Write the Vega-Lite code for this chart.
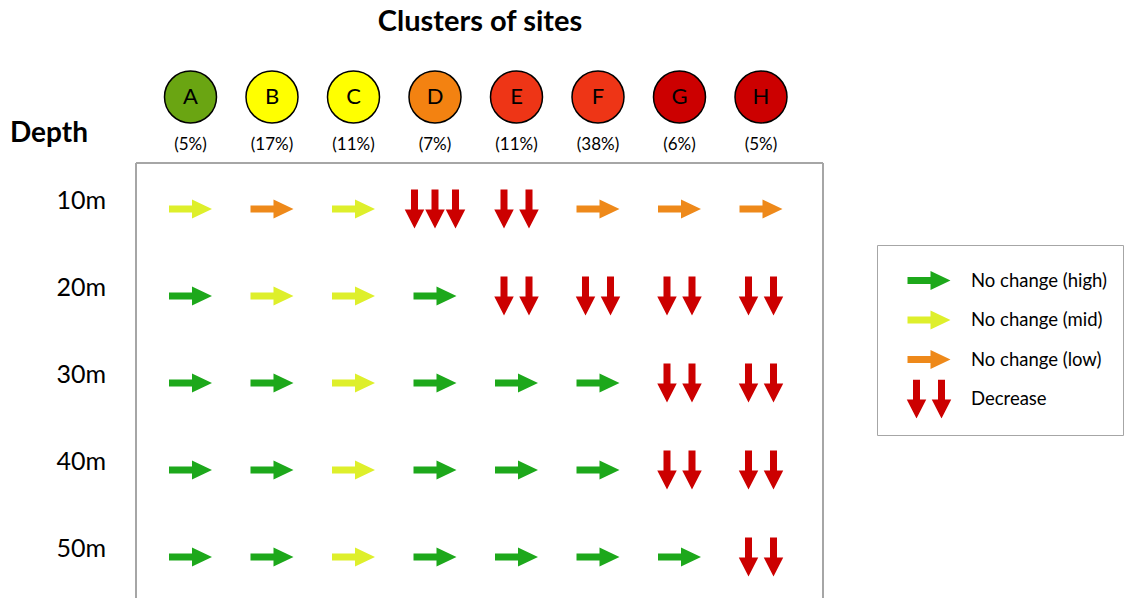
{
  "$schema": "https://vega.github.io/schema/vega-lite/v6.json",
  "width": 1130,
  "height": 599,
  "autosize": {"type": "fit", "contains": "padding"},
  "padding": 0,
  "background": "white",
  "config": {"view": {"stroke": null}, "font": "Lato", "text": {"font": "Lato", "color": "black"}},
  "datasets": {
    "cells": [
      {"cluster": "A", "idx": 1, "depth": 10, "trend": "No change (mid)", "arrows": 1},
      {"cluster": "B", "idx": 2, "depth": 10, "trend": "No change (low)", "arrows": 1},
      {"cluster": "C", "idx": 3, "depth": 10, "trend": "No change (mid)", "arrows": 1},
      {"cluster": "D", "idx": 4, "depth": 10, "trend": "Decrease", "arrows": 3},
      {"cluster": "E", "idx": 5, "depth": 10, "trend": "Decrease", "arrows": 2},
      {"cluster": "F", "idx": 6, "depth": 10, "trend": "No change (low)", "arrows": 1},
      {"cluster": "G", "idx": 7, "depth": 10, "trend": "No change (low)", "arrows": 1},
      {"cluster": "H", "idx": 8, "depth": 10, "trend": "No change (low)", "arrows": 1},
      {"cluster": "A", "idx": 1, "depth": 20, "trend": "No change (high)", "arrows": 1},
      {"cluster": "B", "idx": 2, "depth": 20, "trend": "No change (mid)", "arrows": 1},
      {"cluster": "C", "idx": 3, "depth": 20, "trend": "No change (mid)", "arrows": 1},
      {"cluster": "D", "idx": 4, "depth": 20, "trend": "No change (high)", "arrows": 1},
      {"cluster": "E", "idx": 5, "depth": 20, "trend": "Decrease", "arrows": 2},
      {"cluster": "F", "idx": 6, "depth": 20, "trend": "Decrease", "arrows": 2},
      {"cluster": "G", "idx": 7, "depth": 20, "trend": "Decrease", "arrows": 2},
      {"cluster": "H", "idx": 8, "depth": 20, "trend": "Decrease", "arrows": 2},
      {"cluster": "A", "idx": 1, "depth": 30, "trend": "No change (high)", "arrows": 1},
      {"cluster": "B", "idx": 2, "depth": 30, "trend": "No change (high)", "arrows": 1},
      {"cluster": "C", "idx": 3, "depth": 30, "trend": "No change (mid)", "arrows": 1},
      {"cluster": "D", "idx": 4, "depth": 30, "trend": "No change (high)", "arrows": 1},
      {"cluster": "E", "idx": 5, "depth": 30, "trend": "No change (high)", "arrows": 1},
      {"cluster": "F", "idx": 6, "depth": 30, "trend": "No change (high)", "arrows": 1},
      {"cluster": "G", "idx": 7, "depth": 30, "trend": "Decrease", "arrows": 2},
      {"cluster": "H", "idx": 8, "depth": 30, "trend": "Decrease", "arrows": 2},
      {"cluster": "A", "idx": 1, "depth": 40, "trend": "No change (high)", "arrows": 1},
      {"cluster": "B", "idx": 2, "depth": 40, "trend": "No change (high)", "arrows": 1},
      {"cluster": "C", "idx": 3, "depth": 40, "trend": "No change (mid)", "arrows": 1},
      {"cluster": "D", "idx": 4, "depth": 40, "trend": "No change (high)", "arrows": 1},
      {"cluster": "E", "idx": 5, "depth": 40, "trend": "No change (high)", "arrows": 1},
      {"cluster": "F", "idx": 6, "depth": 40, "trend": "No change (high)", "arrows": 1},
      {"cluster": "G", "idx": 7, "depth": 40, "trend": "Decrease", "arrows": 2},
      {"cluster": "H", "idx": 8, "depth": 40, "trend": "Decrease", "arrows": 2},
      {"cluster": "A", "idx": 1, "depth": 50, "trend": "No change (high)", "arrows": 1},
      {"cluster": "B", "idx": 2, "depth": 50, "trend": "No change (high)", "arrows": 1},
      {"cluster": "C", "idx": 3, "depth": 50, "trend": "No change (mid)", "arrows": 1},
      {"cluster": "D", "idx": 4, "depth": 50, "trend": "No change (high)", "arrows": 1},
      {"cluster": "E", "idx": 5, "depth": 50, "trend": "No change (high)", "arrows": 1},
      {"cluster": "F", "idx": 6, "depth": 50, "trend": "No change (high)", "arrows": 1},
      {"cluster": "G", "idx": 7, "depth": 50, "trend": "No change (high)", "arrows": 1},
      {"cluster": "H", "idx": 8, "depth": 50, "trend": "Decrease", "arrows": 2}
    ],
    "clusters": [
      {"cluster": "A", "idx": 1, "grade": "1", "share": "(5%)"},
      {"cluster": "B", "idx": 2, "grade": "2", "share": "(17%)"},
      {"cluster": "C", "idx": 3, "grade": "2", "share": "(11%)"},
      {"cluster": "D", "idx": 4, "grade": "3", "share": "(7%)"},
      {"cluster": "E", "idx": 5, "grade": "4", "share": "(11%)"},
      {"cluster": "F", "idx": 6, "grade": "4", "share": "(38%)"},
      {"cluster": "G", "idx": 7, "grade": "5", "share": "(6%)"},
      {"cluster": "H", "idx": 8, "grade": "5", "share": "(5%)"}
    ],
    "depths": [
      {"depth": 10, "label": "10m"},
      {"depth": 20, "label": "20m"},
      {"depth": 30, "label": "30m"},
      {"depth": 40, "label": "40m"},
      {"depth": 50, "label": "50m"}
    ]
  },
  "layer": [
    {
      "data": {"values": [{}]},
      "mark": {"type": "rule", "color": "#A6A6A6", "strokeWidth": 2},
      "encoding": {
        "x": {"datum": 0.3313, "type": "quantitative", "scale": {"domain": [-1.3374, 12.5276], "nice": false, "zero": false}, "axis": null},
        "x2": {"datum": 8.7607},
        "y": {"datum": 4.713, "type": "quantitative", "scale": {"domain": [-14.023, 54.828], "nice": false, "zero": false, "reverse": true}, "axis": null}
      }
    },
    {
      "data": {"values": [{}]},
      "mark": {"type": "rule", "color": "#A6A6A6", "strokeWidth": 2},
      "encoding": {
        "x": {"datum": 0.3313, "type": "quantitative"},
        "y": {"datum": 4.713, "type": "quantitative"},
        "y2": {"datum": 54.7}
      }
    },
    {
      "data": {"values": [{}]},
      "mark": {"type": "rule", "color": "#A6A6A6", "strokeWidth": 2},
      "encoding": {
        "x": {"datum": 8.7607, "type": "quantitative"},
        "y": {"datum": 4.713, "type": "quantitative"},
        "y2": {"datum": 54.7}
      }
    },
    {
      "data": {"name": "clusters"},
      "mark": {"type": "point", "shape": "circle", "filled": true, "size": 2704, "stroke": "black", "strokeWidth": 1.5, "opacity": 1},
      "encoding": {
        "x": {"field": "idx", "type": "quantitative"},
        "y": {"datum": -2.874, "type": "quantitative"},
        "fill": {"field": "grade", "type": "nominal", "legend": null,
          "scale": {"domain": ["1", "2", "3", "4", "5"], "range": ["#6AA512", "#FFFF00", "#F38211", "#EE3516", "#CC0000"]}}
      }
    },
    {
      "data": {"name": "clusters"},
      "mark": {"type": "text", "fontSize": 22, "baseline": "middle", "align": "center"},
      "encoding": {
        "x": {"field": "idx", "type": "quantitative"},
        "y": {"datum": -2.874, "type": "quantitative"},
        "text": {"field": "cluster"}
      }
    },
    {
      "data": {"name": "clusters"},
      "mark": {"type": "text", "fontSize": 17, "baseline": "middle", "align": "center"},
      "encoding": {
        "x": {"field": "idx", "type": "quantitative"},
        "y": {"datum": 2.644, "type": "quantitative"},
        "text": {"field": "share"}
      }
    },
    {
      "data": {"name": "cells"},
      "transform": [{"filter": "datum.arrows < 3"}],
      "mark": {"type": "point", "filled": true, "size": 900, "opacity": 1, "strokeWidth": 0},
      "encoding": {
        "x": {"field": "idx", "type": "quantitative"},
        "y": {"field": "depth", "type": "quantitative"},
        "color": {
          "field": "trend", "type": "nominal",
          "scale": {"domain": ["No change (high)", "No change (mid)", "No change (low)", "Decrease"], "range": ["#1DA81B", "#DEEF2B", "#EE891A", "#CC0000"]},
          "legend": {
            "title": null, "orient": "none", "legendX": 877, "legendY": 245,
            "padding": 16, "strokeColor": "#A6A6A6", "fillColor": "white",
            "symbolSize": 900, "symbolStrokeWidth": 0, "symbolOffset": 21,
            "labelFont": "Lato", "labelFontSize": 18.5, "labelColor": "black", "labelOffset": 27,
            "clipHeight": 39, "rowPadding": 0.5,
            "encode": {
              "legend": {"update": {"strokeWidth": {"value": 2}}},
              "symbols": {"update": {"fill": {"signal": "datum.value === 'No change (high)' ? '#92D050' : datum.value === 'No change (mid)' ? '#F5FF00' : datum.value === 'No change (low)' ? '#EE8A1A' : '#CC0000'"}, "opacity": {"value": 1}}}
            }
          }
        },
        "shape": {
          "field": "trend", "type": "nominal",
          "scale": {"domain": ["No change (high)", "No change (mid)", "No change (low)", "Decrease"],
            "range": [
              "M-1.433,-0.233L0.1,-0.233L0.1,-0.633L1.433,0L0.1,0.633L0.1,0.233L-1.433,0.233Z",
              "M-1.433,-0.233L0.1,-0.233L0.1,-0.633L1.433,0L0.1,0.633L0.1,0.233L-1.433,0.233Z",
              "M-1.433,-0.233L0.1,-0.233L0.1,-0.633L1.433,0L0.1,0.633L0.1,0.233L-1.433,0.233Z",
              "M-1.067,-1.3L-0.6,-1.3L-0.6,0.033L-0.183,0.033L-0.833,1.3L-1.483,0.033L-1.067,0.033Z M0.6,-1.3L1.067,-1.3L1.067,0.033L1.483,0.033L0.833,1.3L0.183,0.033L0.6,0.033Z"
            ]}
        }
      }
    },
    {
      "data": {"name": "cells"},
      "transform": [{"filter": "datum.arrows === 3"}],
      "mark": {"type": "point", "filled": true, "size": 900, "opacity": 1, "strokeWidth": 0, "color": "#CC0000",
        "shape": "M-1.6,-1.3L-1.133,-1.3L-1.133,0.033L-0.717,0.033L-1.367,1.3L-2.017,0.033L-1.6,0.033Z M-0.233,-1.3L0.233,-1.3L0.233,0.033L0.65,0.033L0,1.3L-0.65,0.033L-0.233,0.033Z M1.133,-1.3L1.6,-1.3L1.6,0.033L2.017,0.033L1.367,1.3L0.717,0.033L1.133,0.033Z"},
      "encoding": {
        "x": {"field": "idx", "type": "quantitative"},
        "y": {"field": "depth", "type": "quantitative"}
      }
    },
    {
      "data": {"name": "depths"},
      "mark": {"type": "text", "fontSize": 25, "align": "right", "baseline": "middle", "dy": -8},
      "encoding": {
        "x": {"datum": -0.0368, "type": "quantitative"},
        "y": {"field": "depth", "type": "quantitative"},
        "text": {"field": "label"}
      }
    },
    {
      "data": {"values": [{"label": "Depth"}]},
      "mark": {"type": "text", "fontSize": 28, "fontWeight": "bold", "align": "left", "baseline": "middle"},
      "encoding": {
        "x": {"datum": -1.2147, "type": "quantitative"},
        "y": {"datum": 1.379, "type": "quantitative"},
        "text": {"field": "label"}
      }
    },
    {
      "data": {"values": [{"label": "Clusters of sites"}]},
      "mark": {"type": "text", "fontSize": 29, "fontWeight": "bold", "align": "center", "baseline": "middle"},
      "encoding": {
        "x": {"datum": 4.552, "type": "quantitative"},
        "y": {"datum": -11.494, "type": "quantitative"},
        "text": {"field": "label"}
      }
    }
  ]
}
